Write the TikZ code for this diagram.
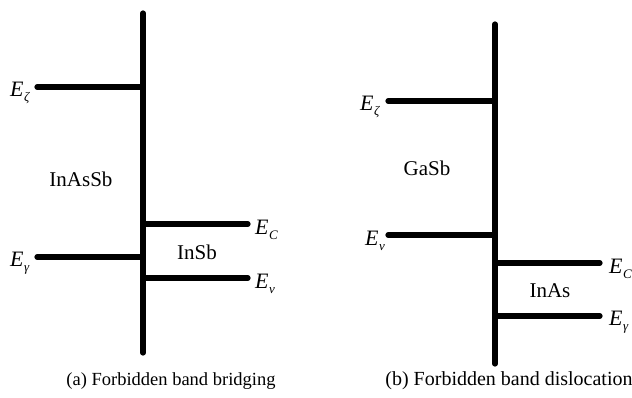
\documentclass[tikz,border=0pt]{standalone}
\usepackage{fontspec}
\setmainfont{Liberation Serif}
\newcommand\Esub[1]{\textit{E}\kern0.5pt\raisebox{-0.55ex}{\fontsize{13}{13}\selectfont\textit{#1}}}
\begin{document}
\begin{tikzpicture}[x=1pt,y=-1pt,
  band/.style={line width=5.2pt, line cap=round},
  lab/.style={font=\fontsize{22}{24}\selectfont, inner sep=0pt},
  mat/.style={font=\fontsize{21}{24}\selectfont, inner sep=0pt},
  capt/.style={font=\fontsize{18.5}{22}\selectfont, inner sep=0pt}]
\useasboundingbox (0,0) rectangle (632,398);
% left diagram
\coordinate (LT) at (143,13);
\coordinate (LB) at (143,353);
\coordinate (LzA) at (37,87);   \coordinate (LzB) at (143,87);
\coordinate (LgA) at (37,257);  \coordinate (LgB) at (143,257);
\coordinate (LcA) at (143,224); \coordinate (LcB) at (248,224);
\coordinate (LvA) at (143,278); \coordinate (LvB) at (248,278);
\draw[band] (LT) -- (LB);
\draw[band] (LzA) -- (LzB);
\draw[band] (LgA) -- (LgB);
\draw[band] (LcA) -- (LcB);
\draw[band] (LvA) -- (LvB);
\node[lab, anchor=west] (lz) at (10,93) {\Esub{ζ}};
\node[lab, anchor=west] (lg) at (10,263) {\Esub{γ}};
\node[lab, anchor=west] (lc) at (255,230) {\Esub{C}};
\node[lab, anchor=west] (lv) at (255,284) {\Esub{v}};
\node[mat] (inassb) at (81,179) {InAsSb};
\node[mat] (insb) at (197,252) {InSb};
\node[capt] (capa) at (171,381) {(a) Forbidden band bridging};
% right diagram
\coordinate (RT) at (495,24);
\coordinate (RB) at (495,364);
\coordinate (RzA) at (388,101); \coordinate (RzB) at (495,101);
\coordinate (RvA) at (388,235); \coordinate (RvB) at (495,235);
\coordinate (RcA) at (495,263); \coordinate (RcB) at (600,263);
\coordinate (RgA) at (495,316); \coordinate (RgB) at (600,316);
\draw[band] (RT) -- (RB);
\draw[band] (RzA) -- (RzB);
\draw[band] (RvA) -- (RvB);
\draw[band] (RcA) -- (RcB);
\draw[band] (RgA) -- (RgB);
\node[lab, anchor=west] (rz) at (360,107) {\Esub{ζ}};
\node[lab, anchor=west] (rv) at (365,241) {\Esub{v}};
\node[lab, anchor=west] (rc) at (609,269) {\Esub{C}};
\node[lab, anchor=west] (rg) at (609,322) {\Esub{γ}};
\node[mat] (gasb) at (427,168) {GaSb};
\node[mat] (inas) at (550,291) {InAs};
\node[capt, font=\fontsize{20}{22}\selectfont] (capb) at (509,381) {(b) Forbidden band dislocation};
\end{tikzpicture}
\end{document}
